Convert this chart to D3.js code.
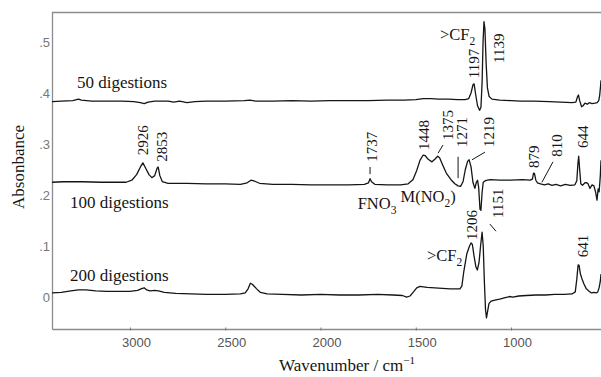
<!DOCTYPE html>
<html><head><meta charset="utf-8">
<script src="https://cdn.jsdelivr.net/npm/d3@7/dist/d3.min.js"></script>
<style>
html,body{margin:0;padding:0;background:#fff;}
svg{display:block;}
</style></head>
<body><svg id="chart" width="601" height="377"></svg>
<script>
// ---- data ----
const wavenumberTicks = [3000, 2500, 2000, 1500, 1000];
const absorbanceTicks = [0, 0.1, 0.2, 0.3, 0.4, 0.5];

const spectrum50 = [[3409,0.383],[3360,0.384],[3300,0.385],[3270,0.388],[3255,0.386],[3200,0.384],[3120,0.384],[3040,0.384],[2980,0.383],[2945,0.381],[2925,0.379],[2905,0.382],[2870,0.384],[2800,0.384],[2770,0.382],[2740,0.384],[2700,0.381],[2660,0.383],[2600,0.384],[2500,0.384],[2400,0.385],[2370,0.386],[2340,0.384],[2250,0.384],[2150,0.385],[2050,0.384],[1950,0.385],[1850,0.385],[1750,0.385],[1650,0.386],[1560,0.386],[1500,0.387],[1460,0.389],[1420,0.389],[1380,0.388],[1330,0.388],[1280,0.387],[1240,0.387],[1222,0.389],[1210,0.400],[1200,0.416],[1194,0.418],[1186,0.398],[1176,0.375],[1165,0.366],[1158,0.372],[1152,0.420],[1147,0.500],[1142,0.540],[1137,0.525],[1131,0.460],[1124,0.410],[1115,0.393],[1100,0.388],[1060,0.386],[1000,0.385],[950,0.384],[880,0.384],[800,0.383],[740,0.382],[680,0.381],[660,0.382],[650,0.394],[646,0.396],[640,0.385],[630,0.373],[622,0.375],[612,0.380],[600,0.378],[590,0.381],[575,0.379],[560,0.380],[548,0.381],[540,0.385],[535,0.395],[530,0.415],[528,0.425]];

const spectrum100 = [[3409,0.225],[3350,0.226],[3250,0.226],[3150,0.225],[3060,0.225],[3020,0.225],[2990,0.229],[2965,0.240],[2945,0.255],[2932,0.263],[2918,0.253],[2900,0.240],[2885,0.234],[2870,0.238],[2858,0.252],[2852,0.255],[2843,0.238],[2830,0.226],[2800,0.223],[2700,0.223],[2600,0.222],[2500,0.222],[2420,0.221],[2385,0.224],[2365,0.229],[2345,0.227],[2320,0.223],[2250,0.221],[2150,0.221],[2050,0.220],[1950,0.220],[1850,0.220],[1770,0.221],[1748,0.224],[1740,0.232],[1732,0.226],[1715,0.221],[1650,0.220],[1580,0.220],[1540,0.222],[1515,0.230],[1495,0.248],[1478,0.268],[1462,0.278],[1450,0.277],[1435,0.270],[1415,0.265],[1400,0.270],[1385,0.276],[1375,0.273],[1360,0.260],[1340,0.243],[1315,0.230],[1295,0.222],[1278,0.218],[1265,0.217],[1252,0.226],[1240,0.250],[1228,0.266],[1220,0.269],[1210,0.255],[1200,0.225],[1190,0.213],[1182,0.225],[1176,0.229],[1170,0.215],[1163,0.172],[1158,0.170],[1152,0.205],[1146,0.225],[1135,0.228],[1110,0.230],[1060,0.229],[1000,0.229],[940,0.230],[900,0.229],[888,0.231],[882,0.243],[877,0.242],[870,0.229],[862,0.224],[845,0.222],[825,0.220],[805,0.222],[785,0.219],[765,0.221],[740,0.218],[715,0.221],[690,0.219],[665,0.220],[655,0.228],[649,0.262],[645,0.276],[640,0.250],[634,0.222],[625,0.219],[612,0.224],[603,0.224],[596,0.222],[586,0.213],[575,0.220],[565,0.218],[556,0.205],[549,0.190],[543,0.212],[538,0.206],[532,0.235],[528,0.268]];

const spectrum200 = [[3409,0.008],[3360,0.009],[3310,0.012],[3270,0.014],[3230,0.014],[3180,0.012],[3120,0.011],[3060,0.011],[3000,0.011],[2960,0.013],[2935,0.017],[2925,0.018],[2912,0.014],[2895,0.012],[2870,0.013],[2850,0.012],[2820,0.009],[2760,0.007],[2680,0.006],[2600,0.005],[2500,0.005],[2420,0.006],[2395,0.008],[2380,0.016],[2368,0.027],[2358,0.025],[2348,0.021],[2335,0.016],[2315,0.009],[2280,0.006],[2200,0.005],[2100,0.004],[2000,0.005],[1900,0.004],[1800,0.004],[1700,0.005],[1620,0.004],[1570,0.003],[1548,0.000],[1530,0.002],[1512,0.010],[1495,0.018],[1478,0.021],[1460,0.020],[1440,0.019],[1400,0.018],[1360,0.017],[1320,0.016],[1290,0.016],[1268,0.016],[1258,0.022],[1248,0.050],[1232,0.085],[1218,0.100],[1210,0.106],[1203,0.103],[1195,0.082],[1185,0.060],[1177,0.053],[1168,0.068],[1160,0.100],[1152,0.127],[1146,0.100],[1140,0.030],[1134,-0.025],[1129,-0.041],[1124,-0.030],[1116,-0.013],[1105,-0.008],[1085,-0.006],[1060,-0.004],[1030,-0.001],[1008,0.001],[990,0.000],[960,0.002],[920,0.003],[870,0.004],[820,0.004],[770,0.005],[720,0.005],[680,0.006],[663,0.010],[655,0.035],[648,0.063],[643,0.062],[636,0.045],[628,0.036],[618,0.026],[605,0.016],[592,0.012],[578,0.008],[565,0.009],[553,0.008],[545,0.010],[538,0.018],[532,0.030],[528,0.045]];

const seriesNames = ["50 digestions", "100 digestions", "200 digestions"];
const seriesNameAnchors = [[3278, 0.41], [3315, 0.175], [3315, 0.031]];

// rotated peak labels: [text, wavenumber of label centre, absorbance at label start]
const peakLabels = [
  ["2926", 2931, 0.278], ["2853", 2832, 0.265], ["1737", 1730, 0.265],
  ["1448", 1457, 0.288], ["1375", 1331, 0.308], ["1271", 1257, 0.294],
  ["1219", 1116, 0.294], ["879", 880, 0.253], ["810", 759, 0.275],
  ["644", 622, 0.292], ["1206", 1205, 0.112], ["1151", 1069, 0.155],
  ["641", 622, 0.078], ["1197", 1194, 0.429], ["1139", 1063, 0.459]
];
// leader lines: [w1, a1, w2, a2]
const leaders = [
  [1740, 0.255, 1740, 0.241], [1357, 0.298, 1383, 0.282],
  [1278, 0.275, 1278, 0.233], [1137, 0.284, 1205, 0.269],
  [780, 0.265, 838, 0.225], [1111, 0.143, 1079, 0.129]
];
// chemical labels: [main, subscript, tail, wavenumber (left), absorbance (baseline)]
const chemLabels = [
  [">CF", "2", "", 1373, 0.504],
  [">CF", "2", "", 1441, 0.071],
  ["FNO", "3", "", 1805, 0.173],
  ["M(NO", "2", ")", 1580, 0.186]
];

// ---- drawing ----
const svg = d3.select("#chart");
const L = 52, R = 601, T = 12, B = 329;
const x = d3.scaleLinear().domain([3409, 528]).range([L, R]);
const y = d3.scaleLinear().domain([-0.0627, 0.5588]).range([B, T]);

svg.append("defs").append("clipPath").attr("id", "clip")
  .append("rect").attr("x", L).attr("y", T).attr("width", R - L).attr("height", B - T);

const serif = "'Liberation Serif','Times New Roman',serif";
const sans = "'Liberation Sans',Arial,sans-serif";
const axisColor = "#8c8c8c";

// frame top line
svg.append("line").attr("x1", L).attr("x2", R).attr("y1", T + 0.5).attr("y2", T + 0.5)
  .attr("stroke", axisColor).attr("stroke-width", 1.3);

// x axis
const xAxis = svg.append("g").attr("transform", `translate(0,${B})`)
  .call(d3.axisBottom(x).tickValues(wavenumberTicks).tickSize(-3).tickSizeOuter(0).tickPadding(9).tickFormat(d3.format("d")));
xAxis.select(".domain").attr("stroke", axisColor).attr("stroke-width", 1.6);
xAxis.selectAll(".tick line").attr("stroke", "#777").attr("transform", "translate(0,1.5)");
xAxis.selectAll(".tick text").attr("font-family", sans).attr("font-size", 13).attr("fill", "#555").attr("dx", 6);

// y axis
const yAxis = svg.append("g").attr("transform", `translate(${L},0)`)
  .call(d3.axisLeft(y).tickValues(absorbanceTicks).tickSize(0).tickSizeOuter(0).tickPadding(2)
    .tickFormat(d => d === 0 ? "0" : d3.format(".1f")(d).replace(/^0/, "")));
yAxis.select(".domain").attr("stroke", axisColor).attr("stroke-width", 1.3);
yAxis.selectAll(".tick text").attr("font-family", sans).attr("font-size", 13).attr("fill", "#777");

// spectra
const line = d3.line().x(d => x(d[0])).y(d => y(d[1]));
const g = svg.append("g").attr("clip-path", "url(#clip)");
[spectrum50, spectrum100, spectrum200].forEach(s => {
  g.append("path").datum(s).attr("d", line)
    .attr("fill", "none").attr("stroke", "#151515").attr("stroke-width", 1.3)
    .attr("stroke-linejoin", "round");
});

// series names
seriesNames.forEach((n, i) => {
  svg.append("text").attr("x", x(seriesNameAnchors[i][0])).attr("y", y(seriesNameAnchors[i][1]))
    .attr("font-family", serif).attr("font-size", 17).attr("fill", "#151515").text(n);
});

// rotated peak labels
peakLabels.forEach(([t, w, a]) => {
  svg.append("text")
    .attr("transform", `translate(${x(w)},${y(a)}) rotate(-90)`)
    .attr("dy", "0.34em")
    .attr("font-family", serif).attr("font-size", 15).attr("fill", "#151515").text(t);
});

// leader lines
leaders.forEach(([w1, a1, w2, a2]) => {
  svg.append("line").attr("x1", x(w1)).attr("y1", y(a1)).attr("x2", x(w2)).attr("y2", y(a2))
    .attr("stroke", "#151515").attr("stroke-width", 1);
});

// chemical labels
chemLabels.forEach(([m, sub, tail, w, a]) => {
  const t = svg.append("text").attr("x", x(w)).attr("y", y(a))
    .attr("font-family", serif).attr("font-size", 16.5).attr("fill", "#151515");
  t.append("tspan").text(m);
  t.append("tspan").attr("font-size", 11.5).attr("dy", 5).text(sub);
  if (tail) t.append("tspan").attr("dy", -5).text(tail);
});

// axis titles
const xt = svg.append("text").attr("x", 347).attr("y", 371).attr("text-anchor", "middle")
  .attr("font-family", serif).attr("font-size", 17).attr("fill", "#151515");
xt.append("tspan").text("Wavenumber / cm");
xt.append("tspan").attr("font-size", 11).attr("dy", -7).text("\u22121");

svg.append("text").attr("transform", "translate(24,167) rotate(-90)").attr("text-anchor", "middle")
  .attr("font-family", serif).attr("font-size", 17).attr("fill", "#151515").text("Absonbance");
</script>
</body></html>
